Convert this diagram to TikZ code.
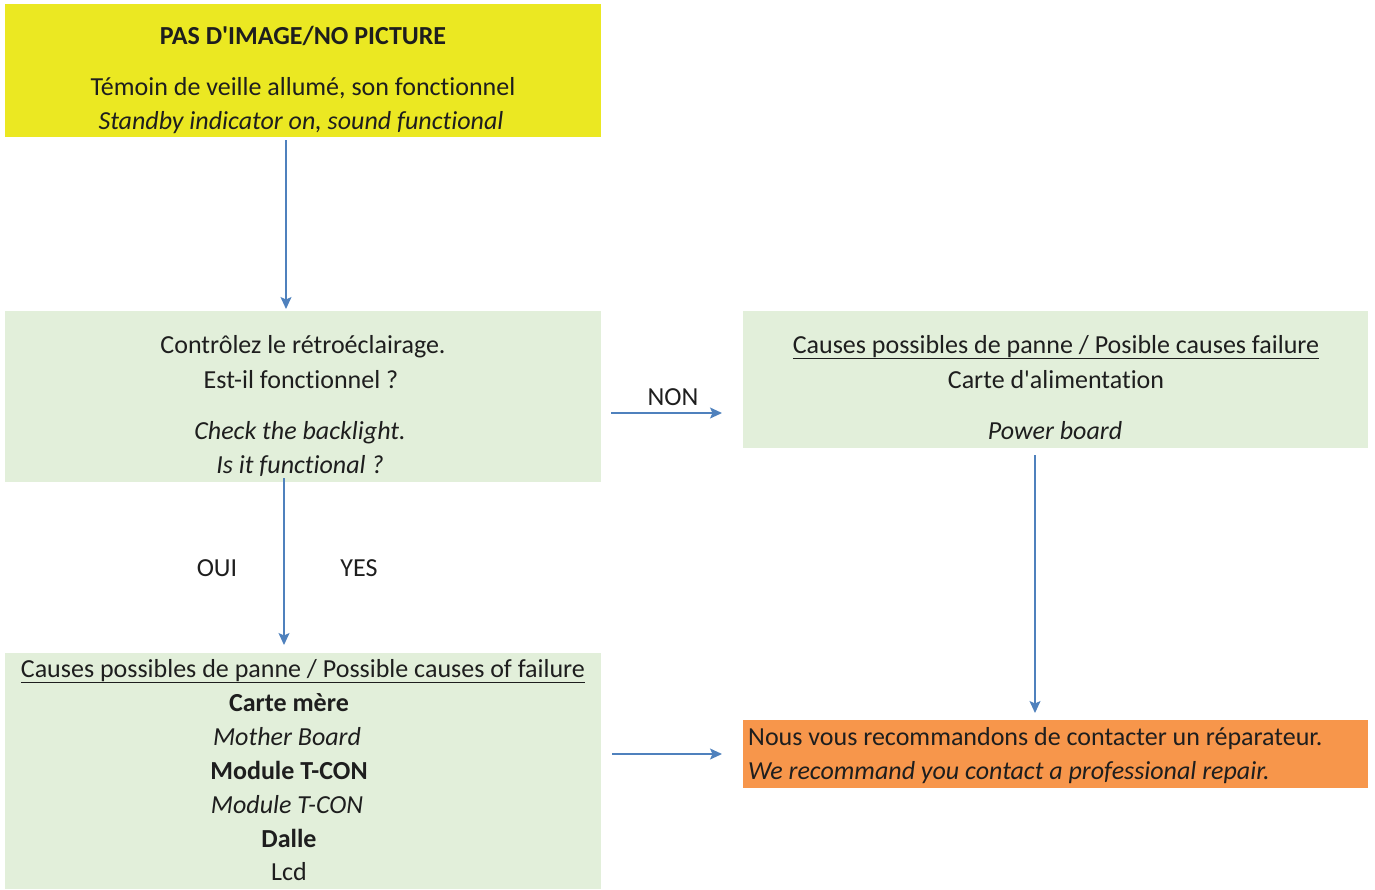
\documentclass[tikz,border=0pt]{standalone}
\usepackage{fontspec}
\setmainfont{Carlito}[Ligatures={TeXOff,NoCommon}]
\usetikzlibrary{arrows.meta}
\definecolor{yel}{RGB}{235,232,34}
\definecolor{grn}{RGB}{226,239,218}
\definecolor{org}{RGB}{247,150,75}
\definecolor{arr}{RGB}{79,129,189}
\definecolor{txt}{RGB}{30,30,30}
\newcommand{\fs}{\fontsize{26}{31}\selectfont}
\begin{document}
\begin{tikzpicture}[x=1pt,y=-1pt,
  box/.style={draw=none,inner sep=0pt,outer sep=0pt},
  lbl/.style={inner sep=0pt,anchor=base,text=txt,font=\fs},
  conn/.style={draw=arr,line width=1.4pt,-{Stealth[length=12pt,width=11pt,inset=2.5pt]}}]
\useasboundingbox (0,0) rectangle (1375,889);
% boxes
\node[box,fill=yel,minimum width=596pt,minimum height=133pt] (top) at (303,70.5) {};
\node[box,fill=grn,minimum width=596pt,minimum height=171pt] (check) at (303,396.5) {};
\node[box,fill=grn,minimum width=625pt,minimum height=137pt] (power) at (1055.5,379.5) {};
\node[box,fill=grn,minimum width=596pt,minimum height=236pt] (causes) at (303,771) {};
\node[box,fill=org,minimum width=625pt,minimum height=68pt] (repair) at (1055.5,754) {};
% texts
\node[lbl,font=\fs\bfseries] (t1) at (303,44) {PAS D'IMAGE/NO PICTURE};
\node[lbl] (t2) at (303,95) {Témoin de veille allumé, son fonctionnel};
\node[lbl,font=\fs\itshape] (t3) at (301,129) {Standby indicator on, sound functional};
\node[lbl] (c1) at (303,353) {Contrôlez le rétroéclairage.};
\node[lbl] (c2) at (301,388) {Est-il fonctionnel ?};
\node[lbl,font=\fs\itshape] (c3) at (300,439) {Check the backlight.};
\node[lbl,font=\fs\itshape] (c4) at (300,473) {Is it functional ?};
\node[lbl] (p1) at (1056,353) {\underline{Causes possibles de panne / Posible causes failure}};
\node[lbl] (p2) at (1056,388) {Carte d'alimentation};
\node[lbl,font=\fs\itshape] (p3) at (1055,439) {Power board};
\node[lbl] (m0) at (303,677) {\underline{Causes possibles de panne / Possible causes of failure}};
\node[lbl,font=\fs\bfseries] (m1) at (289,711) {Carte mère};
\node[lbl,font=\fs\itshape] (m2) at (287,745) {Mother Board};
\node[lbl,font=\fs\bfseries] (m3) at (289,779) {Module T-CON};
\node[lbl,font=\fs\itshape] (m4) at (287,813) {Module T-CON};
\node[lbl,font=\fs\bfseries] (m5) at (289,847) {Dalle};
\node[lbl] (m6) at (289,880) {Lcd};
\node[lbl,anchor=base west] (r1) at (748,745) {Nous vous recommandons de contacter un réparateur.};
\node[lbl,anchor=base west,font=\fs\itshape] (r2) at (748,779) {We recommand you contact a professional repair.};
\node[lbl] (non) at (673,405) {NON};
\node[lbl] (oui) at (217,576) {OUI};
\node[lbl] (yes) at (359,576) {YES};
% connector endpoints
\coordinate (a1s) at (286,140);
\coordinate (a1e) at (286,309);
\coordinate (a2s) at (611,413);
\coordinate (a2e) at (722,413);
\coordinate (a3s) at (284,478);
\coordinate (a3e) at (284,645);
\coordinate (a4s) at (1035,455);
\coordinate (a4e) at (1035,713);
\coordinate (a5s) at (612,754);
\coordinate (a5e) at (722,754);
\draw[conn] (a1s) -- (a1e);
\draw[conn] (a2s) -- (a2e);
\draw[conn] (a3s) -- (a3e);
\draw[conn] (a4s) -- (a4e);
\draw[conn] (a5s) -- (a5e);
\end{tikzpicture}
\end{document}
